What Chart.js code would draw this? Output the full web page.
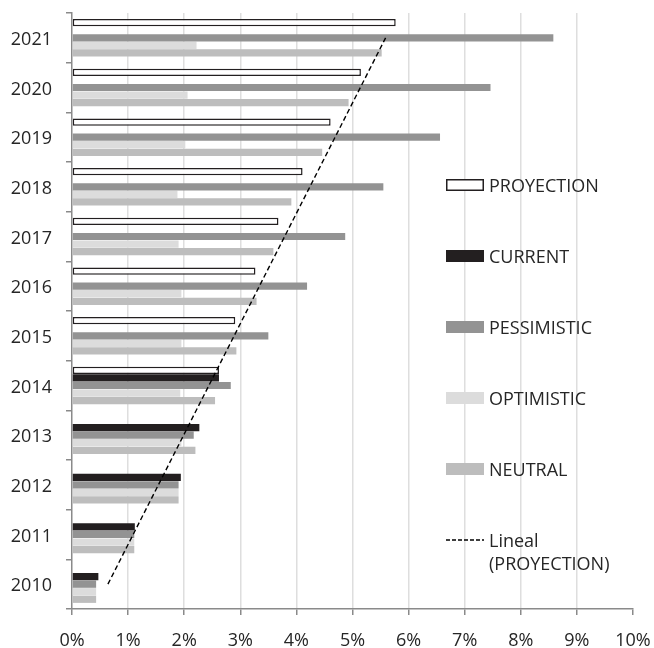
<!DOCTYPE html>
<html>
<head>
<meta charset="utf-8">
<script src="https://cdn.jsdelivr.net/npm/chart.js@4.4.1/dist/chart.umd.min.js"></script>
<style>
  html, body { margin: 0; padding: 0; background: #fff; }
  #wrap { width: 654px; height: 648px; }
</style>
</head>
<body>
<div id="wrap"><canvas id="chart" width="654" height="648"></canvas></div>
<script>
// Years bottom to top (the y scale is reversed so 2010 sits at the bottom).
const years = ['2010', '2011', '2012', '2013', '2014', '2015', '2016', '2017', '2018', '2019', '2020', '2021'];

// Growth rates in percent.
const proyection = [null, null, null, null, 2.62, 2.91, 3.27, 3.68, 4.11, 4.61, 5.15, 5.77];
const current = [0.47, 1.12, 1.94, 2.27, 2.62, null, null, null, null, null, null, null];
const pessimistic = [0.43, 1.11, 1.90, 2.17, 2.83, 3.50, 4.19, 4.87, 5.55, 6.56, 7.46, 8.58];
const optimistic = [0.43, 1.11, 1.90, 1.95, 1.93, 1.95, 1.95, 1.90, 1.88, 2.02, 2.06, 2.22];
const neutral = [0.43, 1.11, 1.90, 2.20, 2.55, 2.93, 3.29, 3.59, 3.91, 4.46, 4.93, 5.52];

// Linear trendline of PROYECTION: only its two end points.
const trend = [0.64, null, null, null, null, null, null, null, null, null, null, 5.59];

const xTicks = [0, 1, 2, 3, 4, 5, 6, 7, 8, 9, 10];

const FONT = '"Open Sans", "Noto Sans", sans-serif';
const TEXT = '#262626';
const AXIS = '#8a8a8a';
const GRID = '#dedede';

/**
 * Legend drawn as a vertical column inside the plot, like the Excel original.
 */
const sideLegend = {
    id: 'sideLegend',
    afterDraw(chart) {
        const ctx = chart.ctx;
        const boxX = 446;
        const boxW = 38;
        const boxH = 12;
        const textX = 489;
        const firstY = 185;
        const step = 71;
        ctx.save();
        ctx.font = '18px ' + FONT;
        ctx.fillStyle = TEXT;
        ctx.textBaseline = 'middle';
        chart.data.datasets.forEach((ds, i) => {
            const cy = firstY + i * step;
            if (ds.type === 'line') {
                ctx.save();
                ctx.strokeStyle = ds.borderColor;
                ctx.lineWidth = 1.3;
                ctx.setLineDash([4, 2]);
                ctx.beginPath();
                ctx.moveTo(boxX, cy);
                ctx.lineTo(boxX + boxW, cy);
                ctx.stroke();
                ctx.restore();
                const lines = ds.label.split('\n');
                lines.forEach((t, k) => {
                    ctx.fillText(t, textX, cy + 2 + k * 23);
                });
            } else {
                ctx.fillStyle = ds.backgroundColor;
                ctx.fillRect(boxX, cy - boxH / 2, boxW, boxH);
                if (ds.borderWidth) {
                    ctx.strokeStyle = ds.borderColor;
                    ctx.lineWidth = 1.5;
                    ctx.strokeRect(boxX + 0.75, cy - boxH / 2 + 0.75, boxW - 1.5, boxH - 1.5);
                }
                ctx.fillStyle = TEXT;
                ctx.fillText(ds.label, textX, cy + 2);
            }
        });
        ctx.restore();
    },
};

const bar = (label, data, fill, border) => ({
    type: 'bar',
    label: label,
    data: data,
    backgroundColor: fill,
    borderColor: border || fill,
    borderWidth: border ? 1.5 : 0,
    borderSkipped: false,
    barPercentage: 0.96,
    categoryPercentage: 0.76,
});

new Chart(document.getElementById('chart'), {
    data: {
        labels: years,
        datasets: [
            bar('PROYECTION', proyection, '#ffffff', '#231f20'),
            bar('CURRENT', current, '#231f20'),
            bar('PESSIMISTIC', pessimistic, '#939393'),
            bar('OPTIMISTIC', optimistic, '#dcdcdc'),
            bar('NEUTRAL', neutral, '#bdbdbd'),
            {
                type: 'line',
                label: 'Lineal\n(PROYECTION)',
                data: trend,
                borderColor: '#000000',
                borderWidth: 1.4,
                borderDash: [5, 3],
                pointRadius: 0,
                spanGaps: true,
                fill: false,
                order: -1,
            },
        ],
    },
    options: {
        indexAxis: 'y',
        responsive: false,
        animation: false,
        devicePixelRatio: 1,
        layout: {padding: {top: 13, right: 21, left: 0, bottom: 0}},
        plugins: {
            legend: {display: false},
            tooltip: {enabled: false},
        },
        scales: {
            x: {
                type: 'linear',
                min: 0,
                max: 10,
                afterBuildTicks: (scale) => {
                    scale.ticks = xTicks.map((v) => ({value: v}));
                },
                afterFit: (scale) => {
                    scale.height = 39;
                    scale.paddingLeft = 0;
                    scale.paddingRight = 0;
                },
                ticks: {
                    font: {family: FONT, size: 18},
                    color: TEXT,
                    padding: 15,
                    maxRotation: 0,
                    callback: (v) => v + '%',
                },
                grid: {
                    color: (c) => (c.index === 10 || c.index === 0 ? 'rgba(0,0,0,0)' : GRID),
                    lineWidth: 1.5,
                    tickColor: AXIS,
                    tickLength: 6,
                },
                border: {color: AXIS, width: 1.5},
            },
            y: {
                type: 'category',
                reverse: true,
                afterFit: (scale) => {
                    scale.width = 72;
                    scale.paddingTop = 0;
                    scale.paddingBottom = 0;
                },
                ticks: {
                    font: {family: FONT, size: 18},
                    color: TEXT,
                    padding: 14,
                    labelOffset: 2,
                },
                grid: {
                    drawOnChartArea: false,
                    color: AXIS,
                    tickLength: 6,
                    lineWidth: 1.5,
                },
                border: {color: AXIS, width: 1.5},
            },
        },
    },
    plugins: [sideLegend],
});
</script>
</body>
</html>
